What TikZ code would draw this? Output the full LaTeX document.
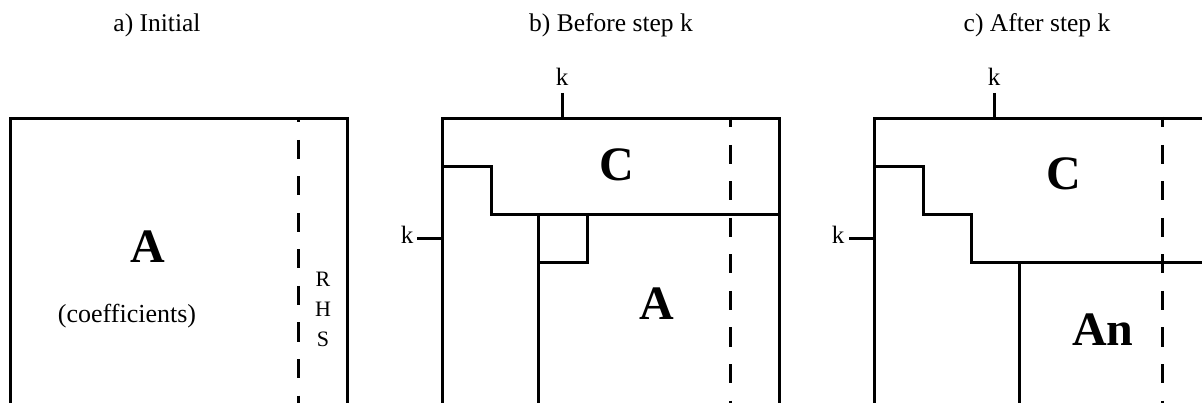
\documentclass[tikz,border=0pt]{standalone}
\usepackage{fontspec}
\setmainfont{Liberation Serif}
\tikzset{
  frame/.style={line width=3pt},
  rhsline/.style={line width=3pt, dash pattern=on 19pt off 17.5pt},
  title/.style={font=\fontsize{25.5}{30}\selectfont, anchor=base, inner sep=0pt},
  klabel/.style={font=\fontsize{25}{30}\selectfont, inner sep=0pt},
  big/.style={font=\fontsize{48}{56}\selectfont\bfseries, inner sep=0pt},
  small/.style={font=\fontsize{26}{30}\selectfont, inner sep=0pt},
}
\begin{document}
\begin{tikzpicture}[x=1pt,y=-1pt]
\useasboundingbox (0,0) rectangle (1202,403);
% titles
\node[title] (ta) at (157,32) {a) Initial};
\node[title] (tb) at (611,32) {b) Before step k};
\node[title] (tc) at (1037,32) {c) After step k};

% ---- panel a
\coordinate (a1) at (10,403);
\coordinate (a2) at (10,119);
\coordinate (a3) at (347,119);
\coordinate (a4) at (347,403);
\draw[frame] (a1) -- (a2) -- (a3) -- (a4);
\coordinate (ad1) at (298,117);
\coordinate (ad2) at (298,403);
\draw[rhsline, dash phase=13.5pt] (ad1) -- (ad2);
\node[big] (aA) at (148,247) {A};
\node[small] (acoef) at (127,316) {(coefficients)};
\node[font=\fontsize{22}{30}\selectfont, align=center, inner sep=0pt] (arhs) at (323,309) {R\\H\\S};

% ---- panel b
\coordinate (b1) at (442,403);
\coordinate (b2) at (442,119);
\coordinate (b3) at (779,119);
\coordinate (b4) at (779,403);
\draw[frame] (b1) -- (b2) -- (b3) -- (b4);
\coordinate (bd1) at (730,117);
\coordinate (bd2) at (730,403);
\draw[rhsline, dash phase=8.5pt] (bd1) -- (bd2);
\coordinate (bkt1) at (562,93);
\coordinate (bkt2) at (562,119);
\draw[frame] (bkt1) -- (bkt2);
\node[klabel] (bk1) at (562,77) {k};
\coordinate (bkl1) at (417,239);
\coordinate (bkl2) at (442,239);
\draw[frame] (bkl1) -- (bkl2);
\node[klabel] (bk2) at (407,235) {k};
\coordinate (bs1) at (442,167);
\coordinate (bs2) at (491,167);
\coordinate (bs3) at (491,215);
\coordinate (bs4) at (780,215);
\draw[frame] (bs1) -- (bs2) -- (bs3) -- (bs4);
\coordinate (bi1) at (538,213.5);
\coordinate (bi2) at (538,403);
\draw[frame] (bi1) -- (bi2);
\coordinate (bq1) at (538,263);
\coordinate (bq2) at (587,263);
\coordinate (bq3) at (587,215);
\draw[frame] (bq1) -- (bq2) -- (bq3);
\node[big] (bC) at (617,165) {C};
\node[big] (bA) at (657,304) {A};

% ---- panel c
\coordinate (c1) at (874,403);
\coordinate (c2) at (874,119);
\coordinate (c3) at (1202,119);
\draw[frame] (c1) -- (c2) -- (c3);
\coordinate (cd1) at (1162,117);
\coordinate (cd2) at (1162,403);
\draw[rhsline, dash phase=8.5pt] (cd1) -- (cd2);
\coordinate (ckt1) at (994,93);
\coordinate (ckt2) at (994,119);
\draw[frame] (ckt1) -- (ckt2);
\node[klabel] (ck1) at (994,77) {k};
\coordinate (ckl1) at (849,239);
\coordinate (ckl2) at (874,239);
\draw[frame] (ckl1) -- (ckl2);
\node[klabel] (ck2) at (838,235) {k};
\coordinate (cs1) at (874,167);
\coordinate (cs2) at (923,167);
\coordinate (cs3) at (923,215);
\coordinate (cs4) at (971,215);
\coordinate (cs5) at (971,263);
\coordinate (cs6) at (1202,263);
\draw[frame] (cs1) -- (cs2) -- (cs3) -- (cs4) -- (cs5) -- (cs6);
\coordinate (ci1) at (1019,263);
\coordinate (ci2) at (1019,403);
\draw[frame] (ci1) -- (ci2);
\node[big] (cC) at (1064,174) {C};
\node[big] (cAn) at (1103,330) {An};
\end{tikzpicture}
\end{document}
